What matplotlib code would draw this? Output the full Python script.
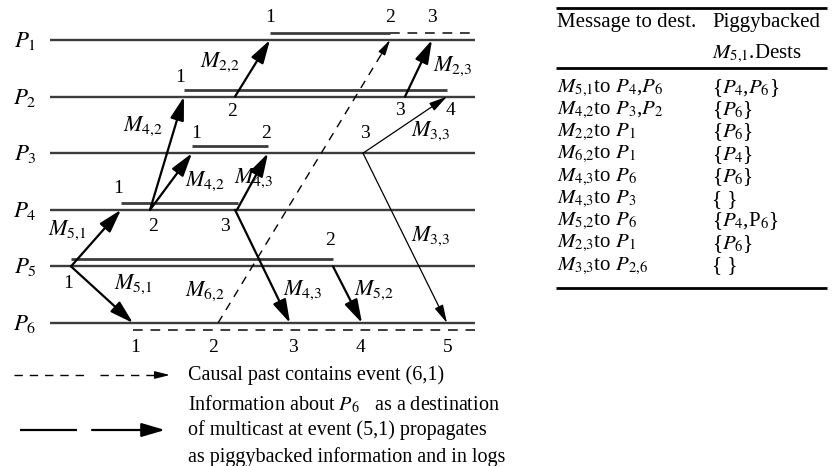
import matplotlib
matplotlib.use('Agg')
import matplotlib.pyplot as plt
from matplotlib.patches import ArrowStyle

plt.rcParams['font.family'] = ['Liberation Serif', 'DejaVu Serif']
plt.rcParams['mathtext.fontset'] = 'stix'

# ---------------- data ----------------
process_names = ['$P_1$', '$P_2$', '$P_3$', '$P_4$', '$P_5$', '$P_6$']
timeline_start = 50
timeline_end = 475

# events: (process, time position, event number, label dx, label dy)
events = [
    (1, 270, '1', 0, -22), (1, 390, '2', 0, -22), (1, 432, '3', 0, -22),
    (2, 184, '1', -4, -19), (2, 235, '2', -3, 15), (2, 405, '3', -5, 14), (2, 447, '4', 3, 14),
    (3, 192, '1', 4, -20), (3, 268, '2', -2, -20), (3, 363, '3', 2, -20),
    (4, 121, '1', -3, -21), (4, 150, '2', 3, 17), (4, 237, '3', -12, 17),
    (5, 71, '1', -3, 17), (5, 333, '2', -3, -26),
    (6, 135, '1', 0, 24), (6, 213, '2', 0, 24), (6, 293, '3', 0, 24),
    (6, 360, '4', 0, 24), (6, 448, '5', 0, 24),
]

# log segments drawn beside a process line: (process, start, end, dashed)
log_segments = [
    (1, 270, 390, False), (1, 390, 475, True),
    (2, 184, 447, False),
    (3, 192, 268, False),
    (4, 121, 238, False),
    (5, 71, 333, False),
    (6, 133, 475, True),
]

# messages: (label, src process, src time, dst process, dst time, kind, label x, label y)
messages = [
    ('$M_{5{,}1}$', 5, 71, 4, 121, 'solid', 67, 230),
    ('$M_{5{,}1}$', 5, 71, 6, 133, 'solid', 133, 284),
    ('$M_{4{,}2}$', 4, 150, 2, 184, 'solid', 143, 126),
    ('$M_{4{,}2}$', 4, 150, 3, 192, 'solid', 205, 181),
    ('$M_{4{,}3}$', 4, 237, 3, 268, 'solid', 254, 178),
    ('$M_{4{,}3}$', 4, 235, 6, 290, 'solid', 303, 290),
    ('$M_{2{,}2}$', 2, 235, 1, 270, 'solid', 220, 62),
    ('$M_{6{,}2}$', 6, 218, 1, 390, 'dashed', 205, 291),
    ('$M_{5{,}2}$', 5, 333, 6, 362, 'solid', 374, 290),
    ('$M_{2{,}3}$', 2, 405, 1, 432, 'solid', 453, 66),
    ('$M_{3{,}3}$', 3, 363, 2, 447, 'thin', 431, 131),
    ('$M_{3{,}3}$', 3, 363, 6, 447, 'thin', 431, 236),
]

table_header_left = 'Message to dest.'
table_header_right = ['Piggybacked', '$M_{5{,}1}$.Dests']
table_messages = [
    '$M_{5{,}1}$to $P_4$,$P_6$',
    '$M_{4{,}2}$to $P_3$,$P_2$',
    '$M_{2{,}2}$to $P_1$',
    '$M_{6{,}2}$to $P_1$',
    '$M_{4{,}3}$to $P_6$',
    '$M_{4{,}3}$to $P_3$',
    '$M_{5{,}2}$to $P_6$',
    '$M_{2{,}3}$to $P_1$',
    '$M_{3{,}3}$to $P_{2{,}6}$',
]
table_dests = [
    '{$P_4$,$P_6$}',
    '{$P_6$}',
    '{$P_6$}',
    '{$P_4$}',
    '{$P_6$}',
    '{ }',
    '{$P_4$,P$_6$}',
    '{$P_6$}',
    '{ }',
]

legend_dashed_text = 'Causal past contains event (6,1)'
legend_solid_text = ['Information about $P_6$   as a destination',
                     'of multicast at event (5,1) propagates',
                     'as piggybacked information and in logs']

# ---------------- layout helpers ----------------
def py(k):
    return 40 + (k - 1) * 56.6

FS = 14.5
LINE_C = '#3c3c3c'

fig = plt.figure(figsize=(8.32, 4.66), dpi=100)
ax = fig.add_axes([0, 0, 1, 1])
ax.set_xlim(0, 832)
ax.set_ylim(466, 0)
ax.axis('off')

head = ArrowStyle('-|>', head_length=0.95, head_width=0.28)
thin_head = ArrowStyle('-|>', head_length=1.0, head_width=0.25)

def arrow(x0, y0, x1, y1, lw=1.5, style=head, ms=14):
    ax.annotate('', xy=(x1, y1), xytext=(x0, y0),
                arrowprops=dict(arrowstyle=style, lw=lw, color='black',
                                mutation_scale=ms, shrinkA=0, shrinkB=0))

# process lines and names
for i, name in enumerate(process_names):
    k = i + 1
    ax.plot([timeline_start, timeline_end], [py(k), py(k)], color=LINE_C, lw=1.7,
            solid_capstyle='butt')
    ax.text(25, py(k) + 1, name, fontsize=16.5, ha='center', va='center')

# log segments
for k, x0, x1, dashed in log_segments:
    off = 7 if k == 6 else -7
    if dashed:
        ax.plot([x0, x1], [py(k) + off, py(k) + off], color=LINE_C, lw=1.4,
                dashes=(5, 4), dash_capstyle='butt')
    else:
        ax.plot([x0, x1], [py(k) + off, py(k) + off], color=LINE_C, lw=2.0,
                solid_capstyle='butt')

# event numbers
for k, x, lab, dx, dy in events:
    ax.text(x + dx, py(k) + dy, lab, fontsize=14, ha='center', va='center')

# messages
for lab, sp, sx, dp, dx_, kind, lx, ly in messages:
    x0, y0, x1, y1 = sx, py(sp), dx_, py(dp)
    if kind == 'solid':
        arrow(x0, y0, x1, y1, lw=1.6, ms=15)
    elif kind == 'thin':
        arrow(x0, y0, x1, y1, lw=0.9, style=thin_head, ms=11)
    else:
        ax.plot([x0, x1], [y0, y1], color='black', lw=1.0, dashes=(6, 5))
        f = 0.05
        arrow(x1 - (x1 - x0) * f, y1 - (y1 - y0) * f, x1, y1, lw=1.0,
              style=thin_head, ms=9)
    ax.text(lx, ly, lab, fontsize=16, ha='center', va='center')

# legend
ax.plot([14, 88], [375, 375], color='black', lw=1.0, dashes=(6, 5))
ax.plot([100, 160], [375, 375], color='black', lw=1.0, dashes=(6, 5))
arrow(158, 375, 170, 375, lw=1.0, style=thin_head, ms=9)
ax.text(188, 375, legend_dashed_text, fontsize=FS, ha='left', va='center')

ax.plot([20, 77], [430, 430], color='black', lw=1.6, solid_capstyle='butt')
arrow(92, 430, 165, 430, lw=1.6, ms=15)
for j, t in enumerate(legend_solid_text):
    ax.text(188, 404 + j * 26.5, t, fontsize=FS, ha='left', va='center')

# table
TX0, TX1, TC = 557, 827, 712
TFS = 15
for yr in (8, 68, 288):
    ax.plot([TX0 - 1, TX1], [yr, yr], color='black', lw=2.0, solid_capstyle='butt')
ax.text(TX0, 23, table_header_left, fontsize=TFS, ha='left', va='center')
ax.text(TC, 23, table_header_right[0], fontsize=TFS, ha='left', va='center')
ax.text(TC, 54, table_header_right[1], fontsize=TFS, ha='left', va='center')
for j, (m, d) in enumerate(zip(table_messages, table_dests)):
    y = 88 + j * 22.25
    ax.text(TX0, y, m, fontsize=TFS, ha='left', va='center')
    ax.text(TC, y, d, fontsize=TFS, ha='left', va='center')

fig.savefig('out.png', dpi=100)
